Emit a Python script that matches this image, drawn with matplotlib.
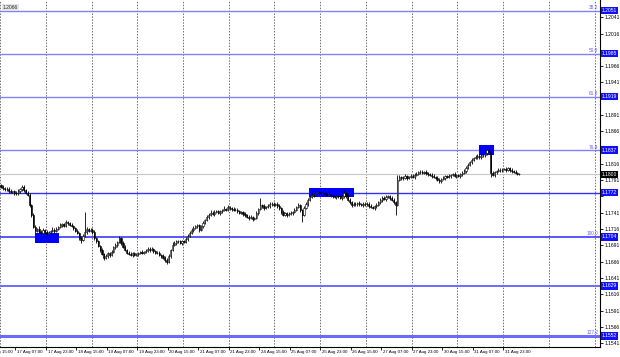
import numpy as np
import matplotlib
matplotlib.use("Agg")
import matplotlib.pyplot as plt
import matplotlib.transforms as mtransforms
from matplotlib.patches import Rectangle

plt.rcParams['font.family'] = ['Liberation Sans', 'DejaVu Sans']

# hourly closes (EURUSD H1)
first_open = 1.1783
closes = [
    1.1781, 1.1779, 1.1777, 1.1778, 1.1775, 1.1773, 1.1774, 1.1772, 1.1771, 1.1774, 1.1777, 1.1781,
    1.1776, 1.1772, 1.1768, 1.1753, 1.1738, 1.1719, 1.1713, 1.1716, 1.1712, 1.1710, 1.1714, 1.1711,
    1.1708, 1.1711, 1.1713, 1.1715, 1.1713, 1.1716, 1.1719, 1.1722, 1.1724, 1.1721, 1.1727, 1.1725,
    1.1723, 1.1721, 1.1717, 1.1713, 1.1710, 1.1703, 1.1699, 1.1706, 1.1712, 1.1716, 1.1713, 1.1715,
    1.1712, 1.1702, 1.1697, 1.1690, 1.1684, 1.1678, 1.1672, 1.1674, 1.1679, 1.1676, 1.1681, 1.1688,
    1.1692, 1.1696, 1.1702, 1.1695, 1.1689, 1.1684, 1.1680, 1.1678, 1.1676, 1.1679, 1.1676, 1.1677,
    1.1679, 1.1681, 1.1680, 1.1681, 1.1683, 1.1686, 1.1684, 1.1685, 1.1682, 1.1680, 1.1679, 1.1676,
    1.1674, 1.1672, 1.1669, 1.1666, 1.1675, 1.1684, 1.1692, 1.1695, 1.1697, 1.1698, 1.1695, 1.1697,
    1.1696, 1.1701, 1.1706, 1.1710, 1.1715, 1.1718, 1.1720, 1.1722, 1.1715, 1.1720, 1.1726, 1.1730,
    1.1734, 1.1738, 1.1741, 1.1739, 1.1742, 1.1744, 1.1741, 1.1743, 1.1745, 1.1747, 1.1746, 1.1750,
    1.1748, 1.1747, 1.1745, 1.1746, 1.1743, 1.1741, 1.1742, 1.1739, 1.1737, 1.1735, 1.1733, 1.1734,
    1.1732, 1.1733, 1.1740, 1.1747, 1.1753, 1.1751, 1.1749, 1.1750, 1.1752, 1.1754, 1.1755, 1.1753,
    1.1754, 1.1752, 1.1748, 1.1742, 1.1738, 1.1740, 1.1738, 1.1739, 1.1741, 1.1742, 1.1746, 1.1750,
    1.1753, 1.1745, 1.1738, 1.1749, 1.1755, 1.1761, 1.1765, 1.1768, 1.1770, 1.1772, 1.1773, 1.1771,
    1.1772, 1.1771, 1.1770, 1.1769, 1.1770, 1.1768, 1.1766, 1.1765, 1.1767, 1.1766, 1.1764, 1.1766,
    1.1771, 1.1767, 1.1761, 1.1757, 1.1753, 1.1755, 1.1754, 1.1756, 1.1754, 1.1753, 1.1755, 1.1754,
    1.1755, 1.1752, 1.1750, 1.1749, 1.1751, 1.1753, 1.1757, 1.1760, 1.1764, 1.1762, 1.1765, 1.1767,
    1.1764, 1.1761, 1.1757, 1.1753, 1.1791, 1.1796, 1.1794, 1.1795, 1.1797, 1.1795, 1.1796, 1.1798,
    1.1796, 1.1799, 1.1801, 1.1803, 1.1804, 1.1802, 1.1803, 1.1802, 1.1800, 1.1799, 1.1798, 1.1796,
    1.1794, 1.1792, 1.1789, 1.1793, 1.1795, 1.1797, 1.1796, 1.1798, 1.1799, 1.1800, 1.1798, 1.1799,
    1.1798, 1.1800, 1.1802, 1.1805, 1.1810, 1.1815, 1.1819, 1.1822, 1.1825, 1.1827, 1.1828, 1.1826,
    1.1830, 1.1829, 1.1832, 1.1837, 1.1834, 1.1802, 1.1799, 1.1803, 1.1805, 1.1807, 1.1806, 1.1808,
    1.1808, 1.1807, 1.1809, 1.1806, 1.1805, 1.1804, 1.1802, 1.1801, 1.1800,
]
# wick lengths in pips above / below the body
upper_wick = [
    2, 2, 1, 3, 2, 2, 1, 2, 2, 3, 2, 3,
    2, 1, 2, 3, 2, 2, 3, 2, 4, 2, 3, 2,
    3, 2, 2, 4, 2, 3, 2, 3, 2, 2, 3, 2,
    2, 3, 2, 2, 3, 2, 3, 2, 30, 3, 2, 2,
    2, 3, 2, 2, 2, 3, 2, 3, 2, 2, 3, 2,
    3, 2, 4, 2, 2, 3, 2, 2, 3, 2, 2, 3,
    2, 2, 3, 2, 2, 3, 2, 3, 2, 2, 2, 3,
    2, 3, 2, 2, 3, 2, 4, 2, 3, 2, 2, 3,
    2, 3, 2, 3, 2, 2, 3, 2, 2, 3, 3, 2,
    3, 2, 4, 2, 3, 2, 2, 3, 2, 4, 2, 3,
    2, 2, 3, 2, 2, 3, 2, 2, 3, 2, 2, 3,
    2, 2, 3, 2, 11, 2, 3, 2, 2, 3, 2, 3,
    2, 3, 2, 2, 3, 2, 2, 3, 2, 2, 3, 2,
    3, 2, 2, 3, 2, 3, 2, 3, 2, 2, 3, 2,
    2, 3, 2, 2, 3, 2, 2, 3, 2, 2, 2, 3,
    5, 2, 3, 2, 2, 3, 2, 2, 3, 2, 2, 3,
    2, 2, 3, 2, 2, 3, 2, 3, 2, 2, 3, 2,
    2, 3, 2, 2, 8, 3, 2, 2, 3, 2, 2, 3,
    2, 3, 2, 2, 3, 2, 2, 3, 2, 2, 3, 2,
    2, 3, 2, 2, 3, 2, 2, 3, 2, 2, 3, 2,
    2, 2, 3, 3, 2, 3, 2, 3, 2, 2, 3, 3,
    2, 3, 3, 5, 3, 2, 3, 2, 2, 3, 2, 2,
    2, 3, 2, 2, 3, 2, 2, 2, 1,
]
lower_wick = [
    2, 3, 2, 2, 3, 2, 2, 3, 2, 2, 2, 2,
    3, 2, 2, 3, 3, 2, 3, 2, 2, 3, 2, 3,
    2, 3, 2, 2, 3, 2, 2, 2, 3, 2, 2, 3,
    2, 2, 3, 2, 2, 3, 4, 2, 2, 3, 2, 2,
    3, 2, 3, 2, 3, 2, 4, 2, 2, 3, 2, 2,
    2, 3, 2, 3, 2, 2, 3, 2, 2, 3, 2, 2,
    3, 2, 2, 3, 2, 2, 3, 2, 2, 3, 2, 2,
    3, 2, 3, 4, 2, 3, 2, 2, 3, 2, 2, 3,
    2, 2, 3, 2, 2, 3, 2, 2, 4, 2, 3, 2,
    2, 3, 2, 2, 3, 2, 2, 3, 2, 2, 3, 2,
    2, 3, 2, 2, 3, 2, 2, 3, 2, 2, 3, 2,
    3, 2, 2, 3, 2, 2, 3, 2, 2, 3, 2, 2,
    2, 3, 2, 3, 2, 2, 3, 2, 2, 3, 2, 2,
    2, 3, 11, 2, 2, 3, 2, 2, 3, 2, 2, 3,
    2, 2, 3, 2, 2, 3, 2, 2, 3, 2, 2, 3,
    2, 3, 2, 2, 3, 2, 2, 3, 2, 2, 3, 2,
    2, 3, 2, 2, 3, 2, 2, 3, 2, 2, 3, 2,
    3, 2, 2, 15, 2, 2, 3, 2, 2, 3, 2, 2,
    2, 3, 2, 2, 3, 2, 2, 3, 2, 2, 3, 2,
    2, 2, 3, 2, 2, 3, 2, 2, 3, 2, 2, 3,
    2, 3, 2, 2, 3, 2, 2, 3, 2, 2, 3, 2,
    2, 2, 3, 2, 2, 6, 2, 3, 2, 2, 3, 2,
    2, 3, 2, 2, 3, 2, 2, 2, 1,
]

# fibonacci / support levels
level_prices = [1.2051, 1.1985, 1.1919, 1.1837, 1.1772, 1.1704, 1.1629, 1.1552]
level_names = ["38.2", "50.0", "61.8", "76.4", "", "100.0", "", "127.2"]

# blue zones: start bar, end bar, top, bottom
zone_start = [17.8, 161.6, 250.8]
zone_end = [30.4, 185.2, 258.7]
zone_top = [1.1710, 1.1779, 1.1845]
zone_bottom = [1.1695, 1.1765, 1.1830]

price_ticks = [1.2041, 1.2016, 1.1991, 1.1966, 1.1941, 1.1916, 1.1891, 1.1866, 1.1841,
               1.1816, 1.1791, 1.1766, 1.1741, 1.1716, 1.1691, 1.1666, 1.1641, 1.1616,
               1.1591, 1.1566, 1.1541]
time_labels = ["16 Aug 15:00", "17 Aug 07:00", "17 Aug 23:00", "18 Aug 15:00", "19 Aug 07:00",
               "19 Aug 23:00", "20 Aug 15:00", "21 Aug 07:00", "21 Aug 23:00", "24 Aug 15:00",
               "25 Aug 07:00", "25 Aug 23:00", "26 Aug 15:00", "27 Aug 07:00", "27 Aug 23:00",
               "30 Aug 15:00", "31 Aug 07:00", "31 Aug 23:00"]
top_label = "1.2066"

# styles
line_colors = ['#8080ff', '#8080ff', '#8080ff', '#8080ff', '#3030ff', '#2828ff', '#6a6aff', '#6a6aff']
line_widths = [1.0, 1.0, 1.0, 1.0, 1.0, 1.1, 1.4, 2.2]
fs = 3.6

closes = np.array(closes)
opens = np.concatenate([[first_open], closes[:-1]])
highs = np.maximum(opens, closes) + np.array(upper_wick) * 0.0001
lows = np.minimum(opens, closes) - np.array(lower_wick) * 0.0001
x = np.arange(len(closes))

fig = plt.figure(figsize=(6.2, 3.57), dpi=100)
ax = fig.add_axes([0, 10 / 357, 600 / 620, 347 / 357])
ax.set_xlim(-0.525, 314.3)
ax.set_ylim(1.15351, 1.20674)

# vertical dotted grid, one per day
for g in np.arange(0, 320, 24) - 0.5:
    ax.axvline(g, color='#707070', ls=(0, (1.5, 1.5)), lw=0.7, zorder=1)

# current price line
ax.axhline(closes[-1], color='#c8c8c8', lw=0.8, zorder=1)

for p, c, w in zip(level_prices, line_colors, line_widths):
    ax.axhline(p, color=c, lw=w, zorder=2)

for s, e, t, b in zip(zone_start, zone_end, zone_top, zone_bottom):
    ax.add_patch(Rectangle((s, b), e - s, t - b, facecolor='#0000ff', edgecolor='none', zorder=3))

# candles
ax.vlines(x, lows, highs, color='black', lw=0.6, zorder=4)
up = closes >= opens
body_h = np.maximum(np.abs(closes - opens), 0.00004)
ax.bar(x, body_h, bottom=np.minimum(opens, closes), width=0.6,
       color=np.where(up, 'white', 'black'), edgecolor='black', linewidth=0.4, zorder=5)

for sp in ['top', 'left']:
    ax.spines[sp].set_visible(False)
for sp in ['right', 'bottom']:
    ax.spines[sp].set_color('black')
    ax.spines[sp].set_linewidth(0.8)

# price scale; labels sitting under a level box are left blank
ax.yaxis.tick_right()
ax.set_yticks(price_ticks)
ylabels = []
for v in price_ticks:
    near = min(abs(v - p) for p in level_prices + [closes[-1]])
    ylabels.append('' if near < 0.00065 else f"{v:.4f}")
ax.set_yticklabels(ylabels)
ax.tick_params(axis='y', length=2, width=0.6, pad=1.5, labelsize=fs, colors='black')

# time axis: labels every 16 bars, starting left of view
tpos = np.arange(len(time_labels)) * 16 - 8.5
ax.set_xticks(tpos[1:])
ax.set_xticklabels([])
ax.tick_params(axis='x', length=2.5, width=0.6, direction='out')
tb = mtransforms.blended_transform_factory(ax.transData, ax.transAxes)
for xp, lab in zip(tpos, time_labels):
    ax.text(xp + 0.9, -0.008, lab, transform=tb, ha='left', va='top', fontsize=3.2,
            clip_on=False)

# level boxes on the price scale
yb = mtransforms.blended_transform_factory(ax.transAxes, ax.transData)
for p, name in zip(level_prices, level_names):
    ax.text(1.003, p, f"{p:.4f}", transform=yb, ha='left', va='center', fontsize=fs,
            color='white', zorder=10, clip_on=False,
            bbox=dict(facecolor='#1010ff', edgecolor='none', pad=0.9))
    if name:
        ax.text(0.997, p + 0.0001, name, transform=yb, ha='right', va='bottom', fontsize=3.4,
                color='#6060ff', zorder=6)
ax.text(1.003, closes[-1], f"{closes[-1]:.4f}", transform=yb, ha='left', va='center',
        fontsize=fs, color='white', zorder=10, clip_on=False,
        bbox=dict(facecolor='black', edgecolor='none', pad=0.9))

ax.text(0.005, 0.985, top_label, transform=ax.transAxes, ha='left', va='top', fontsize=fs,
        color='#303030', zorder=10, bbox=dict(facecolor='#e4e4e4', edgecolor='none', pad=0.8))

fig.savefig('out.png', dpi=100)
